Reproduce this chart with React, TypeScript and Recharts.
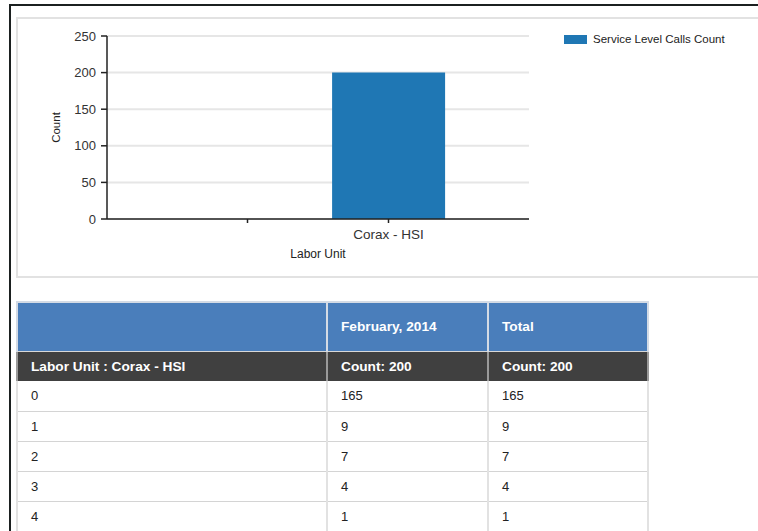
import React from 'react';
import { BarChart, Bar, XAxis, YAxis, CartesianGrid, Legend } from 'recharts';

// chart values
const laborUnits = ['', 'Corax - HSI'];
const callCounts: (number | null)[] = [null, 200];
const countTicks = [0, 50, 100, 150, 200, 250];
const seriesName = 'Service Level Calls Count';

// table values
const tableColumns = ['', 'February, 2014', 'Total'];
const tableTotals = ['Labor Unit : Corax - HSI', 'Count: 200', 'Count: 200'];
const serviceLevels = ['0', '1', '2', '3', '4'];
const februaryCounts = [165, 9, 7, 4, 1];
const totalCounts = [165, 9, 7, 4, 1];

const chartData = laborUnits.map((unit, i) => ({ unit, count: callCounts[i] }));

const FONT = '"Liberation Sans", Arial, sans-serif';
const colWidths = [310, 161, 160];

const renderLegend = (props: any) => (
    <div style={{ display: 'flex', alignItems: 'center', height: 16 }}>
        {(props.payload || []).map((entry: any) => (
            <div key={entry.value} style={{ display: 'flex', alignItems: 'center' }}>
                <span style={{ display: 'inline-block', width: 23, height: 9, background: entry.color, marginRight: 6 }} />
                <span style={{ fontSize: 11.5, color: '#222' }}>{entry.value}</span>
            </div>
        ))}
    </div>
);

const cellBase: React.CSSProperties = {
    boxSizing: 'border-box',
    padding: '0 13px',
    textAlign: 'left',
    whiteSpace: 'nowrap',
};

export default function App() {
    return (
        <div style={{ position: 'relative', width: 758, height: 531, overflow: 'hidden', fontFamily: FONT, background: '#fff' }}>
            <style>{`html,body{margin:0;overflow:hidden;background:#fff}`}</style>

            {/* outer frame */}
            <div style={{ position: 'absolute', left: 9, top: 4, width: 800, height: 600, borderTop: '2px solid #1b2020', borderLeft: '2px solid #1b2020' }} />

            {/* chart panel */}
            <div style={{ position: 'absolute', left: 16, top: 17, width: 760, height: 257, border: '2px solid #e2e2e2', boxSizing: 'content-box' }} />
            <div style={{ position: 'absolute', left: 16, top: 17 }}>
                <BarChart
                    width={742}
                    height={258}
                    data={chartData}
                    margin={{ top: 19, right: 229, bottom: 0, left: 0 }}
                    barCategoryGap="10%"
                >
                    <CartesianGrid vertical={false} stroke="#e6e6e6" strokeWidth={2} />
                    <XAxis
                        dataKey="unit"
                        height={56}
                        padding={{ left: 70, right: 70 }}
                        axisLine={{ stroke: '#222', strokeWidth: 1.5 }}
                        tickLine={{ stroke: '#222', strokeWidth: 1.5 }}
                        tickSize={4}
                        tickMargin={6}
                        tick={{ fontSize: 13.5, fill: '#333' }}
                        label={{ value: 'Labor Unit', position: 'insideBottom', offset: 17, fontSize: 12, fill: '#222' }}
                    />
                    <YAxis
                        width={91}
                        domain={[0, 250]}
                        ticks={countTicks}
                        axisLine={{ stroke: '#222', strokeWidth: 1.5 }}
                        tickLine={{ stroke: '#222', strokeWidth: 1.5 }}
                        tickSize={6}
                        tickMargin={5}
                        tick={{ fontSize: 13, fill: '#333' }}
                        label={{ value: 'Count', angle: -90, position: 'center', dx: -6, fontSize: 11.5, fill: '#222' }}
                    />
                    <Legend
                        layout="horizontal"
                        align="center"
                        verticalAlign="middle"
                        wrapperStyle={{ top: 14, left: 548, width: 190, height: 16 }}
                        content={renderLegend}
                    />
                    <Bar dataKey="count" name={seriesName} fill="#1f77b4" isAnimationActive={false} />
                </BarChart>
            </div>

            {/* table */}
            <table
                style={{
                    position: 'absolute',
                    left: 16,
                    top: 301,
                    borderCollapse: 'collapse',
                    tableLayout: 'fixed',
                    width: 631,
                    fontFamily: FONT,
                }}
            >
                <colgroup>
                    {colWidths.map((w, i) => (
                        <col key={i} style={{ width: w }} />
                    ))}
                </colgroup>
                <tbody>
                    <tr style={{ height: 49 }}>
                        {tableColumns.map((c, i) => (
                            <td
                                key={i}
                                style={{
                                    ...cellBase,
                                    background: '#4a7ebb',
                                    color: '#fff',
                                    fontWeight: 'bold',
                                    fontSize: 13.7,
                                    border: '2px solid #d4dbe5',
                                    borderBottom: '1px solid #d8d8d8',
                                }}
                            >
                                {c}
                            </td>
                        ))}
                    </tr>
                    <tr style={{ height: 30 }}>
                        {tableTotals.map((c, i) => (
                            <td
                                key={i}
                                style={{
                                    ...cellBase,
                                    background: '#404040',
                                    color: '#fff',
                                    fontWeight: 'bold',
                                    fontSize: 13.7,
                                    borderLeft: '2px solid #9a9a9a',
                                    borderRight: '2px solid #9a9a9a',
                                }}
                            >
                                {c}
                            </td>
                        ))}
                    </tr>
                    {serviceLevels.map((lvl, r) => (
                        <tr key={lvl} style={{ height: 30 }}>
                            {[lvl, februaryCounts[r], totalCounts[r]].map((v, i) => (
                                <td
                                    key={i}
                                    style={{
                                        ...cellBase,
                                        color: '#222',
                                        fontSize: 13,
                                        borderLeft: '2px solid #e2e2e2',
                                        borderRight: '2px solid #e2e2e2',
                                        borderBottom: '1px solid #d4d4d4',
                                    }}
                                >
                                    {v}
                                </td>
                            ))}
                        </tr>
                    ))}
                </tbody>
            </table>
        </div>
    );
}
